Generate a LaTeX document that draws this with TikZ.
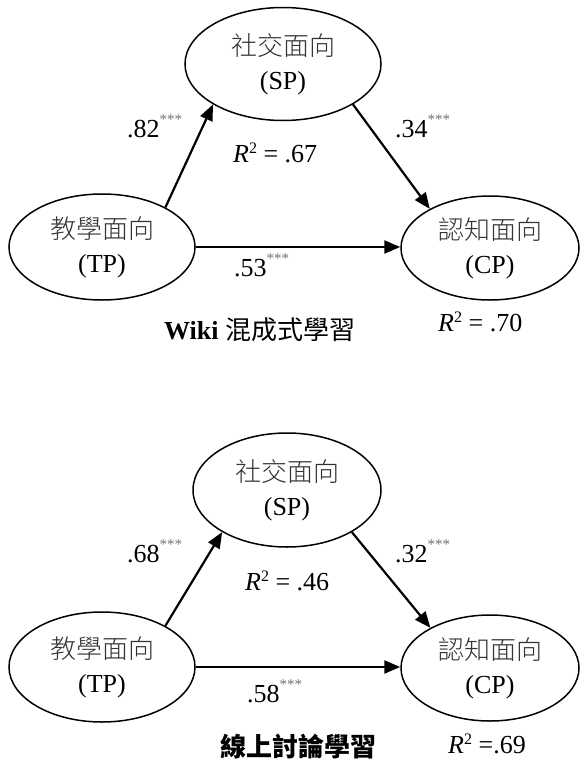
\documentclass[tikz,border=0pt]{standalone}
\usepackage{fontspec}
\setmainfont{Liberation Serif}
\newfontfamily\cjk{Noto Sans CJK TC}
\newfontfamily\cjkl{Noto Sans CJK TC Light}
\usetikzlibrary{arrows.meta,shapes.geometric}
\newcommand{\stars}{\raisebox{13pt}{\fontsize{15}{15}\selectfont\color{black!55}***}}
\newcommand{\rsq}{\textit{R}\raisebox{9pt}{\fontsize{16}{16}\selectfont 2}}
\tikzset{
  construct/.style={ellipse, draw, line width=1.5pt, inner sep=0pt, align=center,
    font=\fontsize{26}{34}\selectfont},
  path/.style={draw, line width=2.2pt, -{Triangle[length=16pt,width=13pt]}},
  lbl/.style={anchor=base west, inner sep=0pt, font=\fontsize{26}{30}\selectfont},
}
\begin{document}
\begin{tikzpicture}[x=1pt,y=-1pt]
\useasboundingbox (0,0) rectangle (579,763);
% ---------- top diagram ----------
\node[construct, minimum width=196pt, minimum height=113pt] (SP1) at (283,64) {{\cjkl\color{black!80}社交面向}\\(SP)};
\node[construct, minimum width=186pt, minimum height=106pt] (TP1) at (102,247) {{\cjkl\color{black!80}教學面向}\\(TP)};
\node[construct, minimum width=178pt, minimum height=104pt] (CP1) at (490,248) {{\cjkl\color{black!80}認知面向}\\(CP)};
\draw[path] (TP1.32) -- (SP1.210);
\draw[path] (SP1.330) -- (CP1.147);
\draw[path] (TP1.east) -- (CP1.west |- TP1.east);
\node[lbl] (b1a) at (127,137) {.82\stars};
\node[lbl] (b1b) at (395,137) {.34\stars};
\node[lbl] (b1c) at (234,276) {.53\stars};
\node[lbl] (r1a) at (233,162) {\rsq{} = .67};
\node[lbl] (r1b) at (438,331) {\rsq{} = .70};
\node[lbl] (t1) at (164,339) {\textbf{Wiki} {\cjk 混成式學習}};
% ---------- bottom diagram ----------
\node[construct, minimum width=188pt, minimum height=114pt] (SP2) at (287,490) {{\cjkl\color{black!80}社交面向}\\(SP)};
\node[construct, minimum width=186pt, minimum height=110pt] (TP2) at (102,667) {{\cjkl\color{black!80}教學面向}\\(TP)};
\node[construct, minimum width=178pt, minimum height=106pt] (CP2) at (490,668) {{\cjkl\color{black!80}認知面向}\\(CP)};
\draw[path] (TP2.33) -- (SP2.213);
\draw[path] (SP2.327) -- (CP2.146);
\draw[path] (TP2.east) -- (CP2.west |- TP2.east);
\node[lbl] (b2a) at (127,562) {.68\stars};
\node[lbl] (b2b) at (395,562) {.32\stars};
\node[lbl] (b2c) at (247,702) {.58\stars};
\node[lbl] (r2a) at (245,590) {\rsq{} = .46};
\node[lbl] (r2b) at (448,753) {\rsq{} =.69};
\node[lbl] (t2) at (220,756) {{\cjk\bfseries 線上討論學習}};
\end{tikzpicture}
\end{document}
